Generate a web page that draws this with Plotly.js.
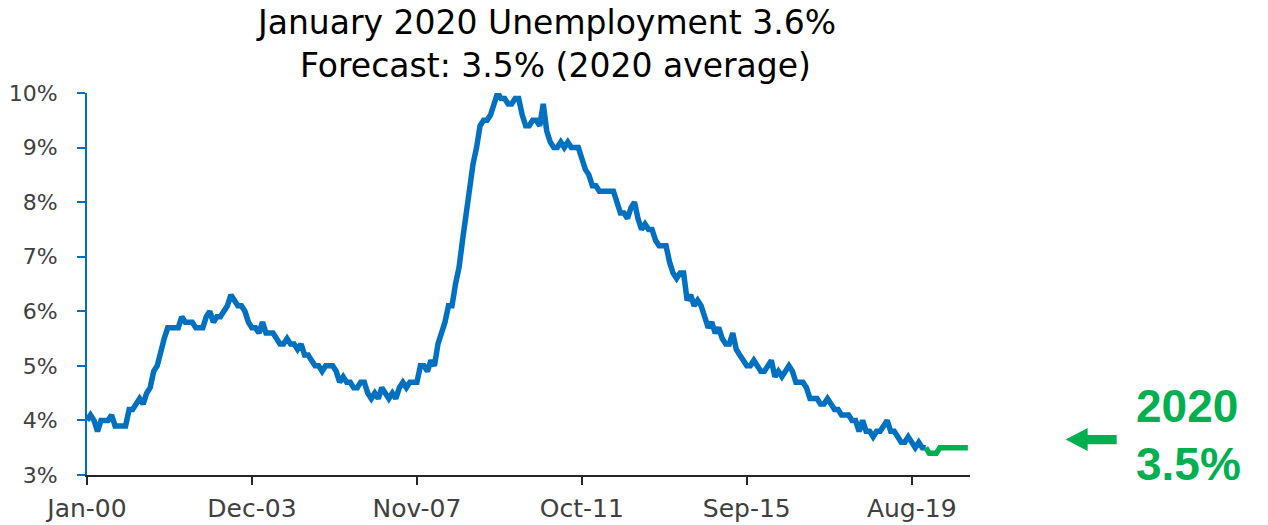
<!DOCTYPE html>
<html>
<head>
<meta charset="utf-8">
<script src="https://cdn.plot.ly/plotly-3.0.1.min.js"></script>
<style>
  html, body { margin: 0; padding: 0; background: #ffffff; }
  #chart { width: 1268px; height: 525px; }
</style>
</head>
<body>
<div id="chart"></div>
<script>
// ---- Data (monthly unemployment rate, %) ----
const monthNames = ["Jan","Feb","Mar","Apr","May","Jun","Jul","Aug","Sep","Oct","Nov","Dec"];
const years = ["00","01","02","03","04","05","06","07","08","09","10","11","12","13","14","15","16","17","18","19","20"];

const rate2000 = [4.0, 4.1, 4.0, 3.8, 4.0, 4.0, 4.0, 4.1, 3.9, 3.9, 3.9, 3.9];
const rate2001 = [4.2, 4.2, 4.3, 4.4, 4.3, 4.5, 4.6, 4.9, 5.0, 5.3, 5.5, 5.7];
const rate2002 = [5.7, 5.7, 5.7, 5.9, 5.8, 5.8, 5.8, 5.7, 5.7, 5.7, 5.9, 6.0];
const rate2003 = [5.8, 5.9, 5.9, 6.0, 6.1, 6.3, 6.2, 6.1, 6.1, 6.0, 5.8, 5.7];
const rate2004 = [5.7, 5.6, 5.8, 5.6, 5.6, 5.6, 5.5, 5.4, 5.4, 5.5, 5.4, 5.4];
const rate2005 = [5.3, 5.4, 5.2, 5.2, 5.1, 5.0, 5.0, 4.9, 5.0, 5.0, 5.0, 4.9];
const rate2006 = [4.7, 4.8, 4.7, 4.7, 4.6, 4.6, 4.7, 4.7, 4.5, 4.4, 4.5, 4.4];
const rate2007 = [4.6, 4.5, 4.4, 4.5, 4.4, 4.6, 4.7, 4.6, 4.7, 4.7, 4.7, 5.0];
const rate2008 = [5.0, 4.9, 5.1, 5.0, 5.4, 5.6, 5.8, 6.1, 6.1, 6.5, 6.8, 7.3];
const rate2009 = [7.8, 8.3, 8.7, 9.0, 9.4, 9.5, 9.5, 9.6, 9.8, 10.0, 9.9, 9.9];
const rate2010 = [9.8, 9.8, 9.9, 9.9, 9.6, 9.4, 9.4, 9.5, 9.5, 9.4, 9.8, 9.3];
const rate2011 = [9.1, 9.0, 9.0, 9.1, 9.0, 9.1, 9.0, 9.0, 9.0, 8.8, 8.6, 8.5];
const rate2012 = [8.3, 8.3, 8.2, 8.2, 8.2, 8.2, 8.2, 8.0, 7.8, 7.8, 7.7, 7.9];
const rate2013 = [8.0, 7.7, 7.5, 7.6, 7.5, 7.5, 7.3, 7.2, 7.2, 7.2, 6.9, 6.7];
const rate2014 = [6.6, 6.7, 6.7, 6.2, 6.3, 6.1, 6.2, 6.1, 5.9, 5.7, 5.8, 5.6];
const rate2015 = [5.7, 5.5, 5.4, 5.4, 5.6, 5.3, 5.2, 5.1, 5.0, 5.0, 5.1, 5.0];
const rate2016 = [4.9, 4.9, 5.0, 5.1, 4.8, 4.9, 4.8, 4.9, 5.0, 4.9, 4.7, 4.7];
const rate2017 = [4.7, 4.6, 4.4, 4.4, 4.4, 4.3, 4.3, 4.4, 4.3, 4.2, 4.2, 4.1];
const rate2018 = [4.1, 4.1, 4.0, 4.0, 3.8, 4.0, 3.8, 3.8, 3.7, 3.8, 3.8, 3.9];
const rate2019 = [4.0, 3.8, 3.8, 3.7, 3.6, 3.6, 3.7, 3.6, 3.5, 3.6, 3.5, 3.5];

// Forecast: starts at Dec-19 (to join the actual line), then Jan-20 .. Dec-20
const forecastStart = "Dec-19";
const forecast2020 = [3.5, 3.4, 3.4, 3.4, 3.5, 3.5, 3.5, 3.5, 3.5, 3.5, 3.5, 3.5, 3.5];

const xTickLabels = ["Jan-00", "Dec-03", "Nov-07", "Oct-11", "Sep-15", "Aug-19"];
const yTickValues = [3, 4, 5, 6, 7, 8, 9, 10];
const yTickLabels = ["3%", "4%", "5%", "6%", "7%", "8%", "9%", "10%"];

// ---- Build category list ----
const months = [];
years.forEach(y => monthNames.forEach(m => months.push(m + "-" + y)));

const actual = [].concat(rate2000, rate2001, rate2002, rate2003, rate2004, rate2005,
  rate2006, rate2007, rate2008, rate2009, rate2010, rate2011, rate2012, rate2013,
  rate2014, rate2015, rate2016, rate2017, rate2018, rate2019);
const actualX = months.slice(0, actual.length);
const fStart = months.indexOf(forecastStart);
const forecastX = months.slice(fStart, fStart + forecast2020.length);

const BLUE = "#0070C0";
const GREEN = "#00B050";

const traces = [
  { x: actualX, y: actual, type: "scatter", mode: "lines",
    line: { color: BLUE, width: 5.5, shape: "linear" }, hoverinfo: "x+y", showlegend: false },
  { x: forecastX, y: forecast2020, type: "scatter", mode: "lines",
    line: { color: GREEN, width: 5.5, shape: "linear" }, hoverinfo: "x+y", showlegend: false }
];

// pixel helpers for decorations (layout only)
const L = 87, PW = 883.3, T = 93.3, PH = 381.7;
const px = v => (v - L) / PW;
const py = v => (T + PH - v) / PH;

const arrowPath = "M " + px(1066) + " " + py(439.5) +
  " L " + px(1088) + " " + py(428) +
  " L " + px(1088) + " " + py(435) +
  " L " + px(1117) + " " + py(435) +
  " L " + px(1117) + " " + py(444.3) +
  " L " + px(1088) + " " + py(444.3) +
  " L " + px(1088) + " " + py(451) + " Z";

const titleFont = { family: "DejaVu Sans, sans-serif", size: 33, color: "#000000" };

const layout = {
  width: 1268, height: 525,
  margin: { l: L, r: 1268 - L - PW, t: T, b: 525 - T - PH, pad: 0 },
  paper_bgcolor: "#ffffff", plot_bgcolor: "#ffffff",
  font: { family: "DejaVu Sans, sans-serif", color: "#404040" },
  title: {
    text: "January 2020 Unemployment 3.6%",
    font: titleFont,
    xref: "container", x: 547 / 1268, xanchor: "center",
    yref: "container", y: 1 - 22 / 525, yanchor: "middle"
  },
  xaxis: {
    type: "category", range: [0, 251.6],
    showgrid: false, zeroline: false,
    showline: true, linecolor: "#262626", linewidth: 2,
    ticks: "outside", ticklen: 8, tickwidth: 2, tickcolor: "#262626",
    tickmode: "array", tickvals: xTickLabels, ticktext: xTickLabels,
    tickfont: { size: 25, color: "#404040" }, ticklabelstandoff: 2,
    fixedrange: true
  },
  yaxis: {
    range: [3, 10],
    showgrid: false, zeroline: false,
    showline: true, linecolor: BLUE, linewidth: 2,
    ticks: "outside", ticklen: 8, tickwidth: 2, tickcolor: BLUE,
    tickmode: "array", tickvals: yTickValues, ticktext: yTickLabels,
    tickfont: { size: 22, color: "#404040" }, ticklabelstandoff: 15,
    fixedrange: true
  },
  shapes: [
    { type: "path", xref: "paper", yref: "paper", path: arrowPath,
      fillcolor: GREEN, line: { width: 0 } }
  ],
  annotations: [
    { text: "Forecast: 3.5% (2020 average)", xref: "paper", yref: "paper",
      x: px(556), y: py(66), xanchor: "center", yanchor: "middle", showarrow: false,
      font: titleFont },
    { text: "2020", xref: "paper", yref: "paper", x: px(1134), y: py(406.5),
      xanchor: "left", yanchor: "middle", showarrow: false,
      font: { family: "Liberation Sans, Arial, sans-serif", size: 46, color: GREEN, weight: "bold" } },
    { text: "3.5%", xref: "paper", yref: "paper", x: px(1134), y: py(464),
      xanchor: "left", yanchor: "middle", showarrow: false,
      font: { family: "Liberation Sans, Arial, sans-serif", size: 46, color: GREEN, weight: "bold" } }
  ]
};

Plotly.newPlot("chart", traces, layout, { displayModeBar: false, staticPlot: true });
</script>
</body>
</html>
